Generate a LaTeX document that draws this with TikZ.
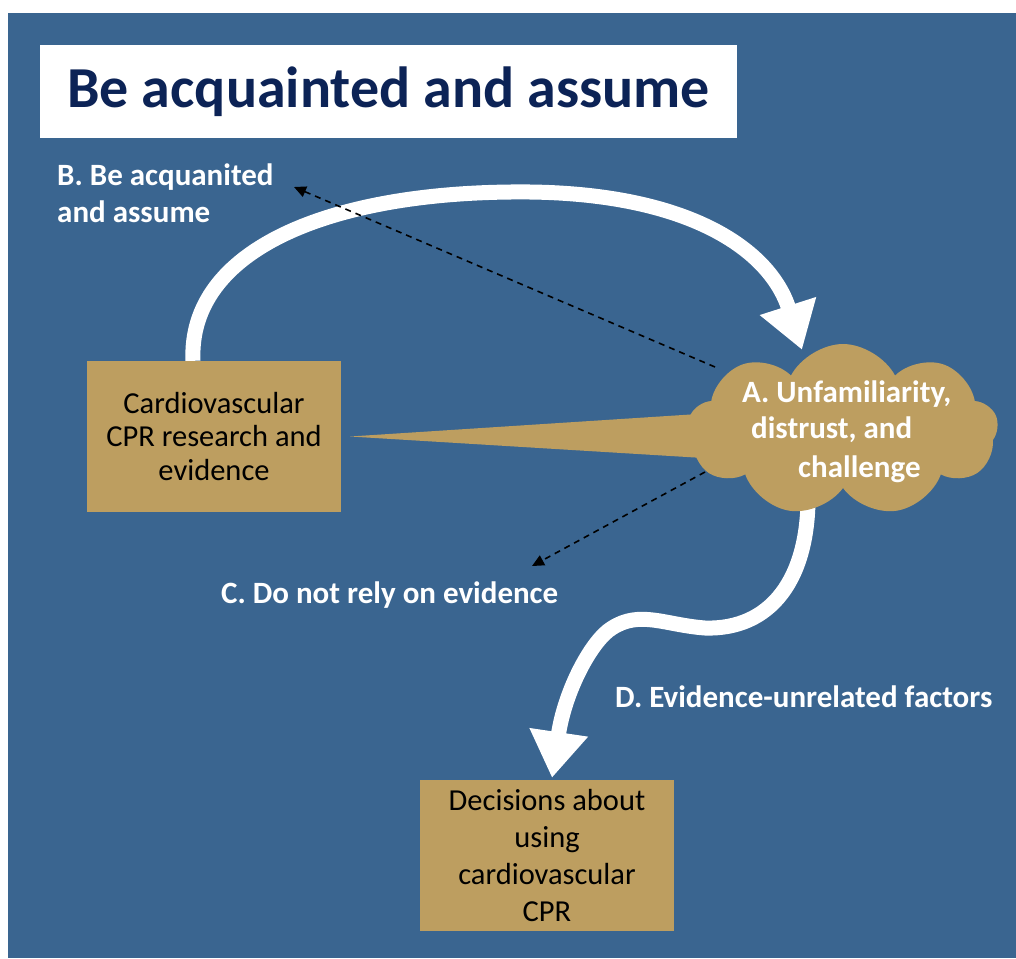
\documentclass[tikz,border=0pt]{standalone}
\usepackage{fontspec}
\setmainfont{Carlito}
\usepackage{tikz}
\usetikzlibrary{calc,arrows.meta,positioning,shapes.symbols}
\definecolor{bgc}{HTML}{3A6590}
\definecolor{tanc}{HTML}{BD9E60}
\definecolor{navc}{HTML}{0C2356}
\pgfdeclarelayer{back}
\pgfdeclarelayer{mid}
\pgfsetlayers{back,mid,main}
\tikzset{
  box/.style={fill=tanc,minimum width=254pt,minimum height=151pt,align=center,inner sep=0pt,font=\fontsize{30.5}{33.5}\selectfont},
  lbl/.style={text=white,inner sep=0pt,font=\fontsize{31}{37}\selectfont\bfseries},
  bigar/.style={white,line width=15pt,-{Triangle[length=46pt,width=56pt]}},
  ar/.style={black,line width=1.6pt,dash pattern=on 6pt off 5pt,-{Triangle[length=12pt,width=11pt]}}
}
\begin{document}
\begin{tikzpicture}[x=1pt,y=-1pt]
\useasboundingbox (0,0) rectangle (1016,958);
\begin{pgfonlayer}{back}
\fill[white] (0,0) rectangle (1016,958);
\fill[bgc] (8,13) rectangle (1016,958);
\end{pgfonlayer}
\node[fill=white,minimum width=697pt,minimum height=93pt,inner sep=0pt,text=navc,font=\fontsize{58}{64}\selectfont\bfseries] (ttl) at (388.5,91.5) {Be acquainted and assume};
\node[box] (ev) at (214,436.5) {Cardiovascular\\CPR research and\\evidence};
\node[box,font=\fontsize{30.5}{37}\selectfont] (dec) at (547,855.5) {Decisions about\\using\\cardiovascular\\CPR};
\node[cloud,cloud puffs=9,cloud puff arc=125,cloud ignores aspect,fill=tanc,minimum width=310pt,minimum height=172pt,inner sep=0pt,shape border rotate=10] (cld) at (843,430) {};
\fill[tanc] ($(ev.east)+(9,0)$) -- ($(cld.west)+(10,-16)$) -- ($(cld.west)+(15,28)$) -- cycle;
\node[lbl,anchor=base west] (a1) at (742,402) {A. Unfamiliarity,};
\node[lbl,anchor=base west] (a2) at (751,438) {distrust, and};
\node[lbl,anchor=base west] (a3) at (798,477) {challenge};
\node[lbl,align=left,anchor=base west] (lb) at (57,222) {B. Be acquanited\\and assume};
\node[lbl,anchor=base west] (lc) at (221,603) {C. Do not rely on evidence};
\node[lbl,anchor=base west] (ld) at (615,707) {D. Evidence-unrelated factors};
\coordinate (tipB) at (294,187);
\coordinate (tipC) at (532,566);
\draw[bigar] ($(ev.north)+(-21,0)$) .. controls +(-5,-111) and (330,190) .. (530,192) .. controls (690,194) and (770,250) .. ($(cld.north)+(-41,6)$);
\begin{pgfonlayer}{mid}
\draw[bigar] ($(cld.center)+(-35,60)$) .. controls +(2,90) and (770,630) .. (705,628) .. controls (665,625) and (640,610) .. (612,628) .. controls (592,640) and (565,690) .. ($(dec.north)+(5,-2)$);
\end{pgfonlayer}
\draw[ar] ($(cld.center)+(-128,-63)$) -- (tipB);
\draw[ar] ($(cld.center)+(-138,42)$) -- (tipC);
\end{tikzpicture}
\end{document}
